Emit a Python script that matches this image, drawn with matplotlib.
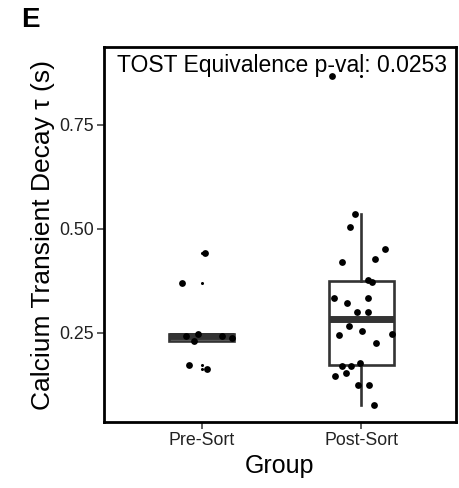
import matplotlib
matplotlib.use("Agg")
import matplotlib.pyplot as plt
import numpy as np

plt.rcParams['font.family'] = ['Liberation Sans', 'DejaVu Sans']

groups = ["Pre-Sort", "Post-Sort"]
pre_values = [0.4416, 0.369, 0.2435, 0.2476, 0.2315, 0.2435, 0.238, 0.174, 0.164]
pre_jitter = [0.023, -0.121, -0.096, -0.019, -0.046, 0.129, 0.192, -0.077, 0.034]
post_values = [0.535, 0.505, 0.452, 0.4286, 0.4199, 0.3767, 0.3734, 0.3349, 0.3349,
               0.3214, 0.3012, 0.3012, 0.2675, 0.254, 0.2484, 0.2444, 0.2252, 0.1786,
               0.1707, 0.1707, 0.1474, 0.1546, 0.124, 0.124, 0.0762, 0.8678]
post_jitter = [-0.0375, -0.0725, 0.15, 0.086, -0.121, 0.04, 0.065, -0.171, 0.042,
               -0.0875, -0.025, 0.042, -0.075, 0.004, 0.19, -0.141, 0.092, -0.008,
               -0.119, -0.066, -0.1625, -0.0975, -0.019, 0.048, 0.0775, -0.185]
yticks = [0.25, 0.50, 0.75]
annotation = "TOST Equivalence p-val: 0.0253"

fig = plt.figure(figsize=(4.6, 4.88), dpi=100)
ax = fig.add_axes([0.226, 0.1352, 0.765, 0.7685])

box_col = '#333333'
bp = ax.boxplot([pre_values, post_values], positions=[1, 2], widths=0.41,
                whis=1.5, patch_artist=True,
                boxprops=dict(facecolor='white', edgecolor=box_col, linewidth=1.9),
                whiskerprops=dict(color=box_col, linewidth=1.9),
                capprops=dict(linewidth=0),
                medianprops=dict(color=box_col, linewidth=5, solid_capstyle='butt'),
                flierprops=dict(marker='o', markersize=1.2, markerfacecolor='black',
                                markeredgecolor='black'),
                zorder=2)

ax.scatter(1 + np.array(pre_jitter), pre_values, s=24, color='black', zorder=3, linewidths=0)
ax.scatter(2 + np.array(post_jitter), post_values, s=24, color='black', zorder=3, linewidths=0)

ax.text(1.5, 0.892, annotation, ha='center', va='center', fontsize=16.5, color='black', zorder=1)

ax.set_xlim(0.39, 2.59)
ax.set_ylim(0.036, 0.9375)
ax.set_xticks([1, 2])
ax.set_xticklabels(groups)
ax.set_yticks(yticks)
ax.set_yticklabels([f"{v:.2f}" for v in yticks])
ax.tick_params(axis='both', length=5, width=1.1, color='#333333', labelsize=12.8,
               labelcolor='#222222', pad=2.5)
for sp in ax.spines.values():
    sp.set_linewidth(2.0)
    sp.set_color('black')

ax.set_xlabel("Group", fontsize=18, labelpad=3)
ax.set_ylabel("Calcium Transient Decay τ (s)", fontsize=19, labelpad=3)

fig.text(0.067, 0.959, "E", fontsize=20, fontweight='bold', ha='center', va='center')

fig.savefig("out.png", dpi=100)
